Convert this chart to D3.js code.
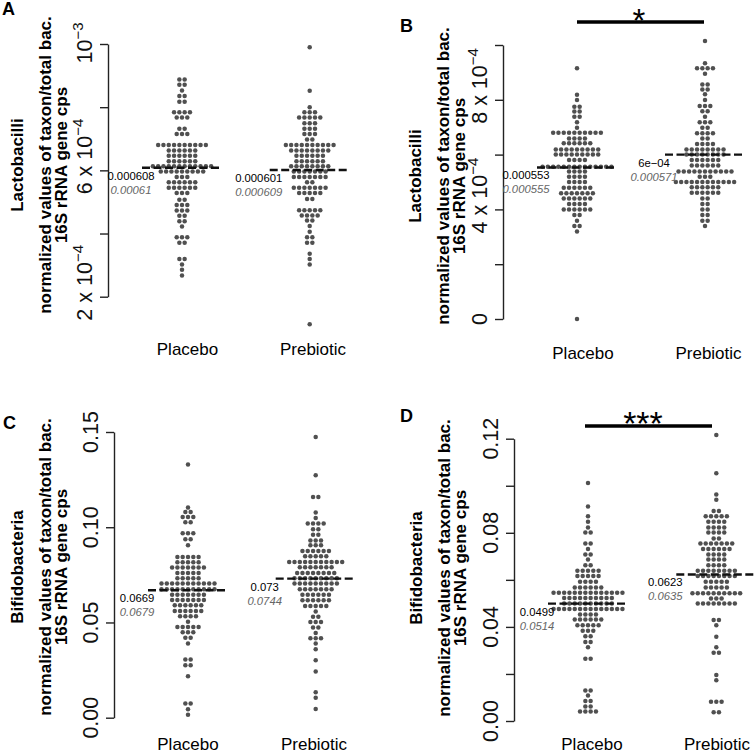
<!DOCTYPE html>
<html><head><meta charset="utf-8">
<script src="https://cdn.jsdelivr.net/npm/d3@7"></script>
<style>
body{margin:0;background:#fff}
svg text{font-family:"Liberation Sans",Arial,Helvetica,sans-serif}
</style>
</head><body>
<svg id="chart" width="756" height="754"></svg>
<script>
// ---------- DATA ----------
const groups = ["Placebo", "Prebiotic"];
// rows of the swarm: [value, number of dots in that row]
const lactoOrigPlacebo = [[8.88e-4,2],[8.71e-4,2],[8.53e-4,1],[8.35e-4,2],[8.17e-4,2],[7.84e-4,4],[7.67e-4,3],[7.32e-4,2],[7.15e-4,3],[6.80e-4,10],[6.63e-4,6],[6.46e-4,6],[6.29e-4,6],[6.13e-4,12],[5.96e-4,9],[5.79e-4,3],[5.62e-4,6],[5.45e-4,6],[5.28e-4,3],[5.07e-4,2],[4.90e-4,3],[4.73e-4,3],[4.56e-4,2],[4.39e-4,2],[4.22e-4,1],[3.88e-4,3],[3.71e-4,2],[3.19e-4,2],[3.02e-4,1],[2.85e-4,1],[2.67e-4,1]];
const lactoOrigPrebiotic = [[9.90e-4,1],[8.52e-4,1],[8.00e-4,1],[7.84e-4,3],[7.67e-4,5],[7.49e-4,3],[7.32e-4,3],[7.15e-4,3],[6.98e-4,2],[6.80e-4,10],[6.63e-4,8],[6.46e-4,6],[6.29e-4,6],[6.13e-4,8],[5.96e-4,7],[5.79e-4,7],[5.62e-4,2],[5.45e-4,7],[5.28e-4,5],[5.09e-4,2],[4.74e-4,5],[4.57e-4,4],[4.41e-4,2],[4.24e-4,1],[4.06e-4,1],[3.88e-4,2],[3.71e-4,2],[3.36e-4,1],[3.19e-4,1],[3.02e-4,1],[1.13e-4,1]];
const lactoNormPlacebo = [[9.15e-4,1],[8.18e-4,1],[7.99e-4,1],[7.75e-4,2],[7.57e-4,2],[7.38e-4,2],[7.18e-4,1],[6.98e-4,1],[6.80e-4,10],[6.59e-4,4],[6.41e-4,6],[6.19e-4,9],[6.00e-4,9],[5.80e-4,4],[5.56e-4,14],[5.38e-4,4],[5.19e-4,4],[5.00e-4,4],[4.79e-4,6],[4.59e-4,7],[4.40e-4,6],[4.20e-4,4],[4.00e-4,6],[3.80e-4,2],[3.59e-4,1],[3.39e-4,2],[3.19e-4,1],[0,1]];
const lactoNormPrebiotic = [[1.015e-3,1],[9.33e-4,1],[9.15e-4,4],[8.95e-4,1],[8.56e-4,2],[8.38e-4,2],[8.20e-4,1],[7.99e-4,1],[7.77e-4,3],[7.58e-4,2],[7.38e-4,1],[7.18e-4,3],[6.98e-4,2],[6.78e-4,4],[6.59e-4,2],[6.39e-4,4],[6.19e-4,8],[6.00e-4,8],[5.80e-4,6],[5.60e-4,6],[5.38e-4,11],[5.19e-4,3],[5.00e-4,12],[4.81e-4,6],[4.61e-4,6],[4.40e-4,2],[4.20e-4,2],[4.00e-4,2],[3.80e-4,2],[3.59e-4,2],[3.39e-4,1]];
const bifidoOrigPlacebo = [[0.1329,1],[0.1103,1],[0.1080,2],[0.1054,3],[0.1026,2],[0.0968,3],[0.0937,2],[0.0905,1],[0.0844,5],[0.0816,5],[0.0788,7],[0.0760,5],[0.0732,5],[0.0704,11],[0.0674,11],[0.0646,7],[0.0618,7],[0.0590,6],[0.0560,6],[0.0532,4],[0.0504,1],[0.0476,5],[0.0448,3],[0.0420,2],[0.0389,1],[0.0305,2],[0.0275,2],[0.0217,1],[0.0074,2],[0.0044,1],[0.0016,1]];
const bifidoOrigPrebiotic = [[0.1474,1],[0.1273,1],[0.1159,2],[0.1077,1],[0.1049,1],[0.1019,4],[0.0989,2],[0.0961,2],[0.0931,3],[0.0905,3],[0.0875,6],[0.0847,5],[0.0818,11],[0.0790,7],[0.0760,8],[0.0732,9],[0.0704,9],[0.0674,7],[0.0646,6],[0.0616,6],[0.0586,5],[0.0558,1],[0.0530,2],[0.0502,3],[0.0474,2],[0.0445,1],[0.0417,3],[0.0389,1],[0.0359,1],[0.0301,1],[0.0243,1],[0.0133,1],[0.0105,1],[0.0046,1]];
const bifidoNormPlacebo = [[0.1012,1],[0.0912,1],[0.0870,1],[0.0847,1],[0.0823,1],[0.0801,2],[0.0754,2],[0.0731,1],[0.0708,2],[0.0686,1],[0.0662,2],[0.0639,5],[0.0616,5],[0.0592,4],[0.0568,6],[0.0545,14],[0.0523,10],[0.0499,10],[0.0476,14],[0.0453,4],[0.0431,6],[0.0407,5],[0.0384,3],[0.0360,2],[0.0336,2],[0.0313,1],[0.0265,2],[0.0130,2],[0.0108,1],[0.0085,2],[0.0062,2],[0.0040,4]];
const bifidoNormPrebiotic = [[0.1216,1],[0.1053,1],[0.0963,1],[0.0941,1],[0.0893,2],[0.0870,5],[0.0847,4],[0.0823,4],[0.0801,4],[0.0776,2],[0.0755,7],[0.0731,6],[0.0708,4],[0.0686,4],[0.0662,4],[0.0639,8],[0.0616,8],[0.0592,5],[0.0568,5],[0.0543,10],[0.0521,3],[0.0499,8],[0.0429,2],[0.0407,1],[0.0358,1],[0.0313,1],[0.0290,2],[0.0196,1],[0.0173,1],[0.0082,3],[0.0037,2]];

const mediansA = [0.000608, 0.000601], meansA = [0.00061, 0.000609];
const medianLabelsA = ["0.000608", "0.000601"], meanLabelsA = ["0.00061", "0.000609"];
const mediansB = [0.000553, 0.0006], meansB = [0.000555, 0.000571];
const medianLabelsB = ["0.000553", "6e\u221204"], meanLabelsB = ["0.000555", "0.000571"];
const mediansC = [0.0669, 0.073], meansC = [0.0679, 0.0744];
const medianLabelsC = ["0.0669", "0.073"], meanLabelsC = ["0.0679", "0.0744"];
const mediansD = [0.0499, 0.0623], meansD = [0.0514, 0.0635];
const medianLabelsD = ["0.0499", "0.0623"], meanLabelsD = ["0.0514", "0.0635"];

const ticksA = [2e-4, 4e-4, 6e-4, 8e-4, 1e-3];
const tickLabelsA = [["2 x 10","\u22124"], null, ["6 x 10","\u22124"], null, ["10","\u22123"]];
const ticksB = [0, 2e-4, 4e-4, 6e-4, 8e-4, 1e-3];
const tickLabelsB = [["0",null], null, ["4 x 10","\u22124"], null, ["8 x 10","\u22124"], null];
const ticksC = [0, 0.05, 0.10, 0.15];
const tickLabelsC = [["0.00",null],["0.05",null],["0.10",null],["0.15",null]];
const ticksD = [0, 0.02, 0.04, 0.06, 0.08, 0.10, 0.12];
const tickLabelsD = [["0.00",null], null, ["0.04",null], null, ["0.08",null], null, ["0.12",null]];

const taxaTitles = ["Lactobacilli", "Lactobacilli", "Bifidobacteria", "Bifidobacteria"];
const titleRest = ["normalized values of taxon/total bac.", "16S rRNA gene cps"];
const panelLetters = ["A", "B", "C", "D"];
const sigStars = [null, "*", null, "***"];

// ---------- LAYOUT ----------
const panels = [
  {letter:[2,15], axisX:108, domain:[2e-4,1e-3], range:[296.7,44], cx:[182,309.7], lab:[[187.5,355],[313,355]],
   title:{x:[22.5,51,67], y:165}, rows:[lactoOrigPlacebo,lactoOrigPrebiotic], med:mediansA, mean:meansA,
   medL:medianLabelsA, meanL:meanLabelsA, ticks:ticksA, tickL:tickLabelsA},
  {letter:[400,32], axisX:503, domain:[0,1e-3], range:[319,45], cx:[577,705], lab:[[583,359],[708.5,359]],
   title:{x:[421,449,465], y:176}, rows:[lactoNormPlacebo,lactoNormPrebiotic], med:mediansB, mean:meansB,
   medL:medianLabelsB, meanL:meanLabelsB, ticks:ticksB, tickL:tickLabelsB,
   sig:{y:22, x:[577,704], tx:639, ty:32, fs:33}},
  {letter:[3,429], axisX:114, domain:[0,0.15], range:[717.7,432], cx:[188,315.7], lab:[[188,750],[314,750]],
   title:{x:[22.5,51,67], y:567}, rows:[bifidoOrigPlacebo,bifidoOrigPrebiotic], med:mediansC, mean:meansC,
   medL:medianLabelsC, meanL:meanLabelsC, ticks:ticksC, tickL:tickLabelsC},
  {letter:[400,422], axisX:514, domain:[0,0.12], range:[721,438.7], cx:[588,716.3], lab:[[592,750],[717,750]],
   title:{x:[421.5,450,466], y:568}, rows:[bifidoNormPlacebo,bifidoNormPrebiotic], med:mediansD, mean:meansD,
   medL:medianLabelsD, meanL:meanLabelsD, ticks:ticksD, tickL:tickLabelsD,
   sig:{y:426, x:[585,712], tx:643, ty:435, fs:34}}
];

const svg = d3.select("#chart");
const dotColor = "#505050";
const dx = 5.3, r = 2.25, halfLine = 40;

panels.forEach((p, pi) => {
  const g = svg.append("g");
  const y = d3.scaleLinear().domain(p.domain).range(p.range);
  const x = d3.scaleOrdinal().domain(groups).range(p.cx);

  // panel letter
  g.append("text").attr("x", p.letter[0]).attr("y", p.letter[1])
    .attr("font-size", 18).attr("font-weight", "bold").text(panelLetters[pi]);

  // y axis
  const axis = d3.axisLeft(y).tickValues(p.ticks).tickSize(8).tickSizeOuter(0).tickFormat("");
  const ag = g.append("g").attr("transform", `translate(${p.axisX},0)`).call(axis);
  ag.selectAll("path,line").attr("stroke", "#222").attr("stroke-width", 1.4);

  // tick labels (rotated)
  p.ticks.forEach((t, i) => {
    const lab = p.tickL[i];
    if (!lab) return;
    const ty = y(t);
    const tx = p.axisX - 16.5;
    const txt = g.append("text").attr("font-size", 21.5).attr("fill", "#111");
    if (lab[1]) {
      const off = lab[0].length > 3 ? 24 : 19.5;
      txt.attr("transform", `translate(${tx},${ty + off}) rotate(-90)`).attr("text-anchor", "start");
      txt.append("tspan").text(lab[0]);
      txt.append("tspan").attr("dy", -9).attr("font-size", 15).text(lab[1]);
    } else {
      txt.attr("transform", `translate(${tx},${ty}) rotate(-90)`).attr("text-anchor", "middle").text(lab[0]);
    }
  });

  // y title (three rotated bold lines)
  const tl = [taxaTitles[pi], titleRest[0], titleRest[1]];
  tl.forEach((s, i) => {
    g.append("text").attr("transform", `translate(${p.title.x[i]},${p.title.y}) rotate(-90)`)
      .attr("text-anchor", "middle").attr("font-size", 17).attr("font-weight", "bold").text(s);
  });

  // swarms
  groups.forEach((gr, gi) => {
    const pts = [];
    p.rows[gi].forEach(([v, n]) => {
      for (let k = 0; k < n; k++) pts.push({v, off: (k - (n - 1) / 2) * dx});
    });
    g.append("g").selectAll("circle").data(pts).join("circle")
      .attr("cx", d => x(gr) + d.off).attr("cy", d => y(d.v)).attr("r", r).attr("fill", dotColor);

    // median dashed line
    const my = y(p.med[gi]);
    g.append("line").attr("x1", x(gr) - halfLine).attr("x2", x(gr) + halfLine)
      .attr("y1", my).attr("y2", my).attr("stroke", "#111").attr("stroke-width", 2.4)
      .attr("stroke-dasharray", "8,3.5");

    // median / mean labels
    const lx = x(gr) - 51;
    g.append("text").attr("x", lx).attr("y", my + 12).attr("text-anchor", "middle")
      .attr("font-size", 11.3).attr("fill", "#000").text(p.medL[gi]);
    g.append("text").attr("x", lx).attr("y", my + 26).attr("text-anchor", "middle")
      .attr("font-size", 11.3).attr("font-style", "italic").attr("fill", "#666").text(p.meanL[gi]);

    // group label
    g.append("text").attr("x", p.lab[gi][0]).attr("y", p.lab[gi][1]).attr("text-anchor", "middle")
      .attr("font-size", 17).attr("fill", "#000").text(gr);
  });

  // significance bar
  if (p.sig) {
    g.append("line").attr("x1", p.sig.x[0]).attr("x2", p.sig.x[1]).attr("y1", p.sig.y).attr("y2", p.sig.y)
      .attr("stroke", "#000").attr("stroke-width", 3.3);
    g.append("text").attr("x", p.sig.tx).attr("y", p.sig.ty).attr("text-anchor", "middle")
      .attr("font-size", p.sig.fs).attr("fill", "#000").text(sigStars[pi]);
  }
});
</script>
</body></html>
